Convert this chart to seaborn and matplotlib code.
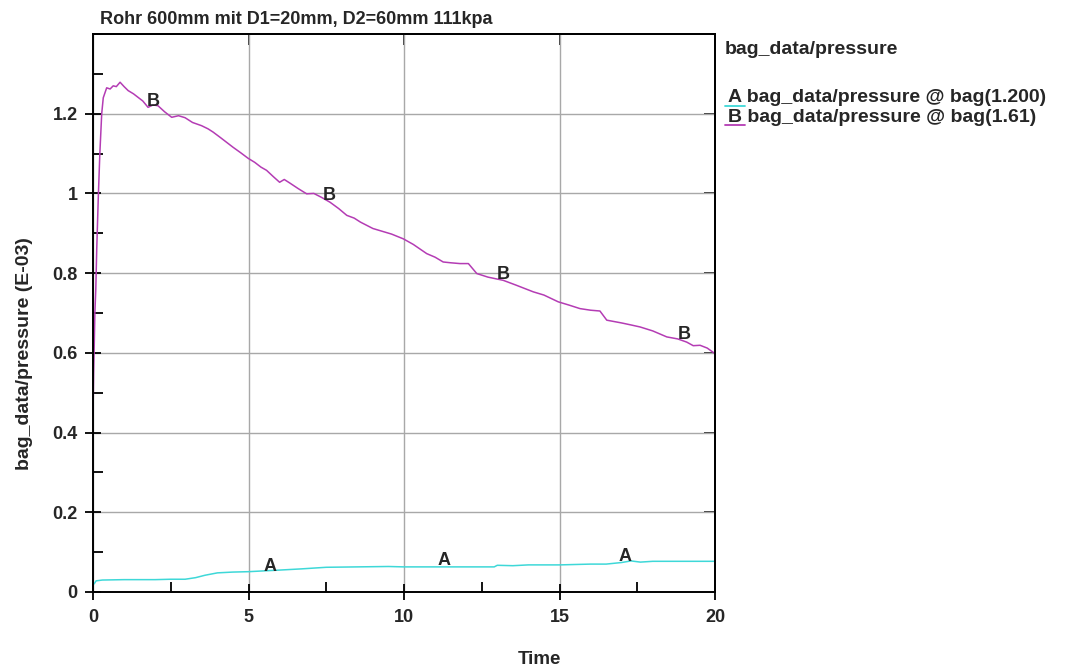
import matplotlib
matplotlib.use("Agg")
import matplotlib.pyplot as plt
from matplotlib.lines import Line2D
from matplotlib.ticker import MultipleLocator
import seaborn as sns
import pandas as pd

# ---- data ----
time_b = [0.0, 0.02, 0.04, 0.06, 0.09, 0.12, 0.17, 0.22, 0.28, 0.33, 0.44, 0.55, 0.65, 0.75,
          0.87, 1.0, 1.13, 1.3, 1.45, 1.6, 1.77, 1.93, 2.09, 2.3, 2.53, 2.75, 2.96, 3.2, 3.49,
          3.7, 3.86, 4.1, 4.3, 4.5, 4.75, 4.99, 5.2, 5.4, 5.58, 5.8, 6.0, 6.15, 6.33, 6.6,
          6.87, 7.1, 7.35, 7.62, 7.9, 8.16, 8.4, 8.6, 9.0, 9.3, 9.6, 9.98, 10.3, 10.73, 11.0,
          11.26, 11.5, 11.8, 12.07, 12.34, 12.7, 13.19, 13.6, 14.16, 14.5, 14.96, 15.3, 15.66,
          16.0, 16.3, 16.52, 17.0, 17.3, 17.59, 18.0, 18.45, 18.8, 19.09, 19.3, 19.52, 19.75, 20.0]
pressure_b = [0.44, 0.55, 0.62, 0.70, 0.76, 0.86, 0.99, 1.10, 1.20, 1.24, 1.265, 1.262, 1.27, 1.268,
              1.279, 1.268, 1.258, 1.25, 1.241, 1.232, 1.216, 1.222, 1.22, 1.205, 1.191, 1.195, 1.19,
              1.178, 1.17, 1.162, 1.154, 1.14, 1.128, 1.116, 1.102, 1.088, 1.078, 1.066, 1.058, 1.042,
              1.028, 1.035, 1.026, 1.012, 0.999, 1.0, 0.99, 0.978, 0.962, 0.945, 0.938, 0.928, 0.912,
              0.905, 0.898, 0.886, 0.872, 0.849, 0.84, 0.828, 0.826, 0.824, 0.824, 0.799, 0.79, 0.782,
              0.77, 0.753, 0.745, 0.728, 0.72, 0.711, 0.707, 0.705, 0.682, 0.675, 0.67, 0.665, 0.655,
              0.640, 0.635, 0.627, 0.618, 0.619, 0.612, 0.598]

time_a = [0.0, 0.05, 0.1, 0.3, 1.0, 2.0, 2.5, 2.96, 3.3, 3.6, 4.0, 4.5, 5.0, 5.5, 6.0, 6.7, 7.5,
          8.5, 9.5, 10.0, 11.0, 12.0, 12.9, 13.0, 13.5, 14.0, 15.0, 16.0, 16.5, 17.0, 17.3, 17.6,
          18.0, 19.0, 20.0]
pressure_a = [0.018, 0.022, 0.028, 0.030, 0.031, 0.031, 0.032, 0.032, 0.036, 0.042, 0.048, 0.050,
              0.051, 0.053, 0.055, 0.058, 0.062, 0.063, 0.064, 0.063, 0.063, 0.063, 0.063, 0.067,
              0.066, 0.068, 0.068, 0.070, 0.070, 0.074, 0.078, 0.075, 0.077, 0.077, 0.077]

series_names = ["A", "B"]
legend_labels = ["bag_data/pressure @ bag(1.200)", "bag_data/pressure @ bag(1.61)"]
marker_a_time = [5.7, 11.3, 17.1]
marker_a_value = [0.065, 0.078, 0.090]
marker_b_time = [1.93, 7.6, 13.2, 19.0]
marker_b_value = [1.23, 0.995, 0.797, 0.645]

x_ticks = [0, 5, 10, 15, 20]
x_ticklabels = ["0", "5", "10", "15", "20"]
y_ticks = [0, 0.2, 0.4, 0.6, 0.8, 1.0, 1.2]
y_ticklabels = ["0", "0.2", "0.4", "0.6", "0.8", "1", "1.2"]

title = "Rohr 600mm mit D1=20mm, D2=60mm 111kpa"
x_label = "Time"
y_label = "bag_data/pressure (E-03)"
legend_title = "bag_data/pressure"

colors = {"A": "#3ed8d8", "B": "#b43cb4"}

# ---- build frame ----
df = pd.concat([
    pd.DataFrame({"Time": time_a, "pressure": pressure_a, "series": "A"}),
    pd.DataFrame({"Time": time_b, "pressure": pressure_b, "series": "B"}),
], ignore_index=True)

sns.set_theme(style="white")
plt.rcParams["font.family"] = ["Liberation Sans", "DejaVu Sans"]

W, H = 1067, 670
fig = plt.figure(figsize=(W / 100, H / 100), dpi=100)
ax = fig.add_axes([93 / W, 1 - 592 / H, (715 - 93) / W, (592 - 34) / H])

sns.lineplot(data=df, x="Time", y="pressure", hue="series", palette=colors,
             linewidth=1.1, legend=False, ax=ax, estimator=None, sort=False)

ax.set_xlim(0, 20)
ax.set_ylim(0, 1.4)
ax.xaxis.set_minor_locator(MultipleLocator(2.5))
ax.yaxis.set_minor_locator(MultipleLocator(0.1))
ax.set_yticks(y_ticks)
ax.set_yticklabels(y_ticklabels)
ax.set_xticks(x_ticks)
ax.set_xticklabels(x_ticklabels)

ax.grid(True, which="major", color="#a8a8a8", linewidth=1.0)
for s in ax.spines.values():
    s.set_color("black")
    s.set_linewidth(1.4)
    s.set_visible(True)

ax.tick_params(which="major", direction="inout", length=12, width=1.3, color="black",
               labelsize=13, bottom=True, left=True, top=False, right=False)
ax.tick_params(axis="y", which="major", pad=5)
ax.tick_params(axis="x", which="major", pad=6)
ax.tick_params(which="minor", direction="in", length=7, width=1.3, color="black",
               bottom=True, left=True, top=False, right=False)
for lab in ax.get_xticklabels() + ax.get_yticklabels():
    lab.set_fontweight("bold")

# small inward ticks on top and right frame
sec_x = ax.secondary_xaxis("top")
sec_x.set_xticks(x_ticks[1:-1])
sec_x.tick_params(direction="in", length=8, width=1.3, labeltop=False)
sec_y = ax.secondary_yaxis("right")
sec_y.set_yticks(y_ticks[1:])
sec_y.tick_params(direction="in", length=8, width=1.3, labelright=False)
for a in (sec_x, sec_y):
    for s in a.spines.values():
        s.set_linewidth(1.4)

ax.set_xlabel("")
ax.set_ylabel(y_label, fontsize=14, fontweight="bold")
ax.yaxis.set_label_coords(-0.096, 0.428)
fig.text(539 / W, 1 - 660 / H, x_label, fontsize=13.5, fontweight="bold",
         ha="center", va="center")

fig.text(100 / W, 1 - 23.5 / H, title, fontsize=13, fontweight="bold",
         ha="left", va="baseline")

# series letter markers along curves
for t, v in zip(marker_a_time, marker_a_value):
    ax.text(t, v, "A", ha="center", va="center", fontsize=13, fontweight="bold")
for t, v in zip(marker_b_time, marker_b_value):
    ax.text(t, v, "B", ha="center", va="center", fontsize=13, fontweight="bold")

# legend block on the right
fig.text(725 / W, 1 - 50 / H, legend_title, fontsize=14, fontweight="bold",
         ha="left", va="center")
rows_y = [98, 117]
for name, lab, yy in zip(series_names, legend_labels, rows_y):
    fig.text(728 / W, 1 - yy / H, name + " " + lab, fontsize=14, fontweight="bold",
             ha="left", va="center")
    fig.add_artist(Line2D([725 / W, 745 / W], [1 - (yy + 8) / H, 1 - (yy + 8) / H],
                          color=colors[name], linewidth=1.3, transform=fig.transFigure))

fig.savefig("out.png", dpi=100)
